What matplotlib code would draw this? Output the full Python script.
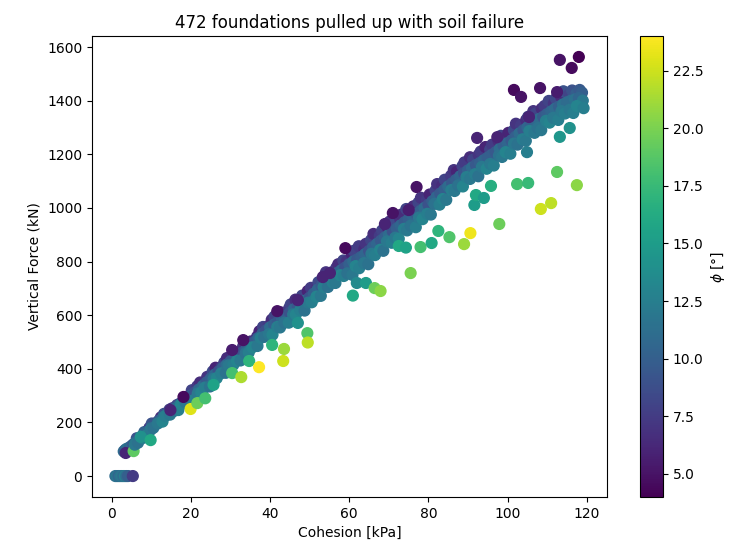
import numpy as np
import matplotlib
matplotlib.use('Agg')
import matplotlib.pyplot as plt


# foundations with zero uplift force (very low cohesion)
zero_c = [0.9, 1.3, 1.7, 2.1, 2.5, 2.9, 3.3, 3.7, 4.1, 5.3]
zero_F = [0, 0, 0, 0, 0, 0, 0, 0, 0, 0]
zero_phi = [11, 12, 10.5, 11.5, 12, 11, 12.5, 11, 10, 7.5]

# small jump cluster around 100 kN
step_c = [3.0, 3.4, 3.8, 4.2, 4.6, 5.0, 5.4, 3.5, 5.5]
step_F = [92, 98, 102, 96, 108, 112, 118, 86, 93]
step_phi = [11, 10, 11.5, 12, 10.5, 11, 9.5, 6, 19]

# main band: upper edge of the cloud
upper_c = [6.3, 7.6, 8.2, 9.5, 10.1, 11.7, 12.4, 13.2, 14.6, 15.3,
           16.5, 17.2, 18.7, 19.4, 20.2, 21.6, 22.3, 23.8, 24.1, 25.5,
           26.2, 27.7, 28.4, 29.1, 30.6, 31.3, 32.8, 33.2, 34.5, 35.1,
           36.7, 37.3, 38.2, 39.6, 40.4, 41.1, 42.6, 43.3, 44.8, 45.2,
           46.4, 47.7, 48.1, 49.5, 50.3, 51.8, 52.2, 53.6, 54.1, 55.4,
           56.7, 57.2, 58.5, 59.3, 60.6, 61.1, 62.4, 63.8, 64.2, 65.5,
           66.1, 67.7, 68.3, 69.6, 70.2, 71.5, 72.8, 73.1, 74.4, 75.7,
           76.2, 77.5, 78.1, 79.6, 80.3, 81.8, 82.2, 83.5, 84.1, 85.7,
           86.4, 87.2, 88.6, 89.1, 90.5, 91.3, 92.7, 93.2, 94.4, 95.6,
           96.1, 97.7, 98.3, 99.5, 100.2, 101.6, 102.1, 103.4, 104.7, 105.2,
           106.5, 107.1, 108.6, 109.3, 110.4, 111.7, 112.2, 113.5, 114.1, 115.6,
           116.3, 117.4, 118.2, 118.8]
upper_F = [141, 148, 164, 180, 196, 204, 219, 232, 248, 253,
           265, 270, 291, 298, 320, 335, 349, 352, 370, 390,
           404, 406, 423, 440, 454, 456, 470, 485, 499, 502,
           520, 540, 556, 560, 583, 595, 611, 608, 626, 640,
           658, 656, 673, 690, 702, 702, 723, 745, 760, 759,
           776, 790, 804, 800, 828, 840, 857, 847, 866, 880,
           903, 896, 916, 930, 949, 942, 961, 975, 996, 988,
           1006, 1020, 1038, 1030, 1050, 1065, 1089, 1084, 1105, 1120,
           1141, 1135, 1156, 1170, 1189, 1180, 1198, 1210, 1227, 1218,
           1236, 1250, 1269, 1262, 1280, 1290, 1314, 1308, 1328, 1340,
           1361, 1352, 1370, 1380, 1399, 1390, 1408, 1415, 1435, 1424,
           1438, 1427, 1440, 1430]
upper_phi = [9, 8, 10, 7.5, 9, 8, 6.5, 9, 8, 7,
             8, 9, 7, 6, 8, 7.5, 6.5, 8, 7, 8.5,
             6, 7.5, 8, 6.5, 7, 8, 5.5, 7, 8, 6.5,
             7, 6, 8, 7.5, 6.5, 8, 7, 6, 7.5, 8,
             6.5, 7, 8, 6, 7.5, 7, 8.5, 6, 7, 8,
             7.5, 6.5, 8, 7, 6, 8, 7.5, 6.5, 7, 8,
             6.5, 7.5, 8, 6, 7, 8.5, 7, 6.5, 8, 7,
             6.5, 8, 7, 7.5, 6, 8, 7, 6.5, 8, 7.5,
             7, 6, 8, 7.5, 6.5, 8, 7, 7.5, 6, 8,
             7.5, 6.5, 8, 7, 6, 8.5, 7, 7.5, 6.5, 8,
             7, 8, 6.5, 7.5, 8, 7, 8.5, 6.5, 9, 8,
             9, 10, 9.5, 10]

# main band: middle of the cloud
mid_c = [6, 7, 8, 9, 10, 11, 12, 13, 14, 15,
         16, 17, 18, 19, 20, 21, 22, 23, 24, 25,
         26, 27, 28, 29, 30, 31, 32, 33, 34, 35,
         36, 37, 38, 39, 40, 41, 42, 43, 44, 45,
         46, 47, 48, 49, 50, 51, 52, 53, 54, 55,
         56, 57, 58, 59, 60, 61, 62, 63, 64, 65,
         66, 67, 68, 69, 70, 71, 72, 73, 74, 75,
         76, 77, 78, 79, 80, 81, 82, 83, 84, 85,
         86, 87, 88, 89, 90, 91, 92, 93, 94, 95,
         96, 97, 98, 99, 100, 101, 102, 103, 104, 105,
         106, 107, 108, 109, 110, 111, 112, 113, 114, 115,
         116, 117, 118, 119]
mid_F = [125, 138, 152, 166, 180, 194, 207, 220, 232, 243,
         253, 263, 275, 288, 300, 312, 323, 336, 350, 364,
         378, 390, 403, 415, 428, 440, 450, 461, 473, 486,
         500, 515, 530, 544, 555, 565, 575, 586, 598, 610,
         622, 634, 645, 655, 666, 680, 695, 710, 724, 737,
         748, 758, 768, 778, 790, 800, 808, 817, 828, 840,
         854, 866, 878, 890, 900, 912, 923, 935, 947, 958,
         968, 978, 989, 1000, 1012, 1025, 1040, 1054, 1067, 1080,
         1092, 1105, 1118, 1130, 1140, 1150, 1160, 1168, 1178, 1188,
         1198, 1208, 1220, 1232, 1242, 1252, 1265, 1278, 1290, 1300,
         1312, 1322, 1332, 1340, 1350, 1360, 1370, 1378, 1386, 1394,
         1400, 1404, 1410, 1400]
mid_phi = [11, 10, 12, 10.5, 11, 9.5, 10, 11, 10, 11.5,
           10, 11, 9.5, 10.5, 10, 9, 10.5, 11, 9.5, 10,
           10.5, 9, 10, 11, 9.5, 10, 10.5, 9, 10, 11,
           9.5, 10.5, 10, 9, 11, 10, 9.5, 10.5, 10, 9,
           10.5, 9.5, 10, 11, 9, 10, 10.5, 9.5, 10, 11,
           9.5, 10, 10.5, 9, 10, 11, 9.5, 10, 10.5, 9,
           10, 10.5, 9.5, 10, 11, 9, 10, 10.5, 9.5, 10,
           10.5, 9.5, 10, 11, 9, 10, 10.5, 9.5, 10, 11,
           9.5, 10, 10.5, 9, 10, 11, 9.5, 10, 10.5, 10,
           10, 9.5, 11, 10, 10.5, 9.5, 10, 11, 9.5, 10.5,
           10, 10.5, 11, 9.5, 10, 10.5, 11, 10, 11.5, 11,
           11, 11.5, 10.5, 12]

# main band: lower edge of the cloud
low_c = [5.8, 6.6, 7.7, 8.4, 9.8, 10.5, 11.6, 12.8, 13.5, 14.7,
         15.6, 16.8, 17.5, 18.6, 19.8, 20.5, 21.7, 22.6, 23.5, 24.8,
         25.7, 26.5, 27.6, 28.8, 29.5, 30.7, 31.6, 32.5, 33.8, 34.6,
         35.5, 36.8, 37.6, 38.5, 39.7, 40.6, 41.8, 42.5, 43.6, 44.7,
         45.8, 46.5, 47.6, 48.7, 49.6, 50.5, 51.7, 52.8, 53.5, 54.6,
         55.8, 56.5, 57.7, 58.6, 59.5, 60.8, 61.6, 62.5, 63.7, 64.8,
         65.6, 66.5, 67.8, 68.6, 69.5, 70.7, 71.6, 72.5, 73.8, 74.6,
         75.5, 76.8, 77.6, 78.5, 79.7, 80.6, 81.5, 82.8, 83.6, 84.5,
         85.8, 86.6, 87.5, 88.7, 89.6, 90.5, 91.8, 92.6, 93.5, 94.7,
         95.6, 96.5, 97.8, 98.6, 99.5, 100.7, 101.6, 102.5, 103.8, 104.6,
         105.5, 106.8, 107.6, 108.5, 109.7, 110.6, 111.5, 112.8, 113.6, 114.5,
         115.7, 116.6, 117.5, 119.2]
low_F = [117, 124, 141, 149, 172, 180, 196, 203, 224, 229,
         242, 246, 267, 274, 280, 282, 308, 311, 330, 334,
         363, 365, 383, 385, 413, 415, 430, 431, 458, 461,
         480, 485, 515, 519, 529, 527, 556, 554, 572, 572,
         603, 602, 619, 617, 647, 648, 669, 672, 705, 705,
         722, 720, 749, 746, 756, 750, 783, 775, 794, 790,
         829, 824, 844, 840, 875, 870, 889, 885, 922, 916,
         934, 928, 964, 958, 978, 975, 1015, 1012, 1033, 1030,
         1067, 1063, 1084, 1080, 1115, 1108, 1126, 1118, 1153, 1146,
         1164, 1158, 1195, 1190, 1208, 1202, 1240, 1236, 1256, 1250,
         1287, 1280, 1298, 1290, 1325, 1318, 1336, 1328, 1361, 1352,
         1366, 1354, 1380, 1372]
low_phi = [12, 11.5, 12.5, 13, 12, 11.5, 12, 13, 12.5, 12,
           11.5, 12.5, 13, 12, 11.5, 12.5, 12, 13, 12.5, 11.5,
           12, 13, 12.5, 11.5, 12, 12.5, 13, 12, 11.5, 12.5,
           13, 12, 12.5, 11.5, 12, 13, 12.5, 12, 11.5, 12.5,
           12, 13, 12.5, 11.5, 12, 12.5, 13, 12, 12.5, 11.5,
           12.5, 12, 13, 12.5, 11.5, 12, 13, 12.5, 12, 11.5,
           12, 12.5, 13, 11.5, 12, 12.5, 12, 13, 12.5, 12,
           11.5, 12.5, 12, 13, 12.5, 12, 11.5, 12.5, 13, 12,
           12.5, 12, 11.5, 13, 12.5, 12, 12.5, 11.5, 12, 13,
           12, 12.5, 11.5, 12, 13, 12.5, 12, 11.5, 12.5, 12,
           12.5, 12, 11.5, 12, 12.5, 13, 12, 12.5, 12, 12.5,
           12, 12.5, 13, 12.5]

# high friction angle foundations falling below the band
weak_c = [7.3, 9.8, 19.9, 21.6, 23.6, 25.7, 30.4, 32.7, 34.7, 37.2,
          40.5, 43.3, 43.5, 47.0, 49.4, 49.5, 60.9, 61.9, 64.2, 66.4,
          67.9, 72.5, 74.3, 75.5, 78.0, 80.8, 82.5, 85.3, 89.0, 90.6,
          91.6, 92.0, 94.0, 95.8, 97.9, 102.4, 105.2, 104.9, 108.4, 111.0,
          112.5, 113.2, 115.7, 117.5]
weak_F = [146, 134, 250, 272, 290, 340, 384, 369, 429, 406,
          489, 429, 474, 571, 533, 498, 673, 720, 720, 701,
          690, 858, 852, 757, 854, 869, 914, 891, 865, 906,
          1011, 1048, 1037, 1082, 940, 1089, 1093, 1208, 996, 1018,
          1134, 1265, 1298, 1085]
weak_phi = [14, 16, 23, 19.5, 18, 15.5, 18, 21.5, 17, 24,
            17, 22.5, 21, 14, 18.5, 22, 16, 13.5, 15, 19.5,
            20.5, 16, 15.5, 20, 18, 16, 17, 18.5, 21, 23.5,
            15, 16, 15, 16.5, 19.5, 18, 17.5, 12.5, 22.5, 22,
            19, 14.5, 14, 20.5]

# low friction angle foundations above the band
top_c = [18.1, 14.8, 30.4, 33.2, 41.8, 47.0, 53.3, 55.1, 59.0, 69.0,
         71.0, 75.0, 77.0, 92.3, 97.4, 105.4, 101.6, 103.4, 108.2, 112.5,
         113.2, 118.0, 116.2]
top_F = [295, 246, 470, 507, 615, 656, 742, 757, 850, 940,
         981, 992, 1078, 1261, 1264, 1339, 1440, 1414, 1447, 1432,
         1552, 1563, 1522]
top_phi = [4.5, 6, 5.5, 5, 5, 6, 6, 6, 4.5, 6,
           5, 5.5, 5, 6, 6, 6, 4.5, 5, 5, 5.5,
           5, 4, 4.5]


cohesion = np.concatenate([zero_c, step_c, upper_c, mid_c, low_c, weak_c, top_c])
force = np.concatenate([zero_F, step_F, upper_F, mid_F, low_F, weak_F, top_F])
phi = np.concatenate([zero_phi, step_phi, upper_phi, mid_phi, low_phi, weak_phi, top_phi])

fig = plt.figure(figsize=(7.39, 5.5), dpi=100)
ax = fig.add_axes([92/739, 53/550, 515/739, 461/550])
cax = fig.add_axes([640/739, 53/550, 23/739, 461/550])

sc = ax.scatter(cohesion, force, c=phi, cmap='viridis', s=60, vmin=4, vmax=24)
ax.set_title('472 foundations pulled up with soil failure')
ax.set_xlabel('Cohesion [kPa]')
ax.set_ylabel('Vertical Force (kN)')
ax.set_xticks([0, 20, 40, 60, 80, 100, 120])
ax.set_yticks([0, 200, 400, 600, 800, 1000, 1200, 1400, 1600])

cb = fig.colorbar(sc, cax=cax)
cb.set_label(r'$\phi$ [°]')

fig.savefig('out.png', dpi=100)
